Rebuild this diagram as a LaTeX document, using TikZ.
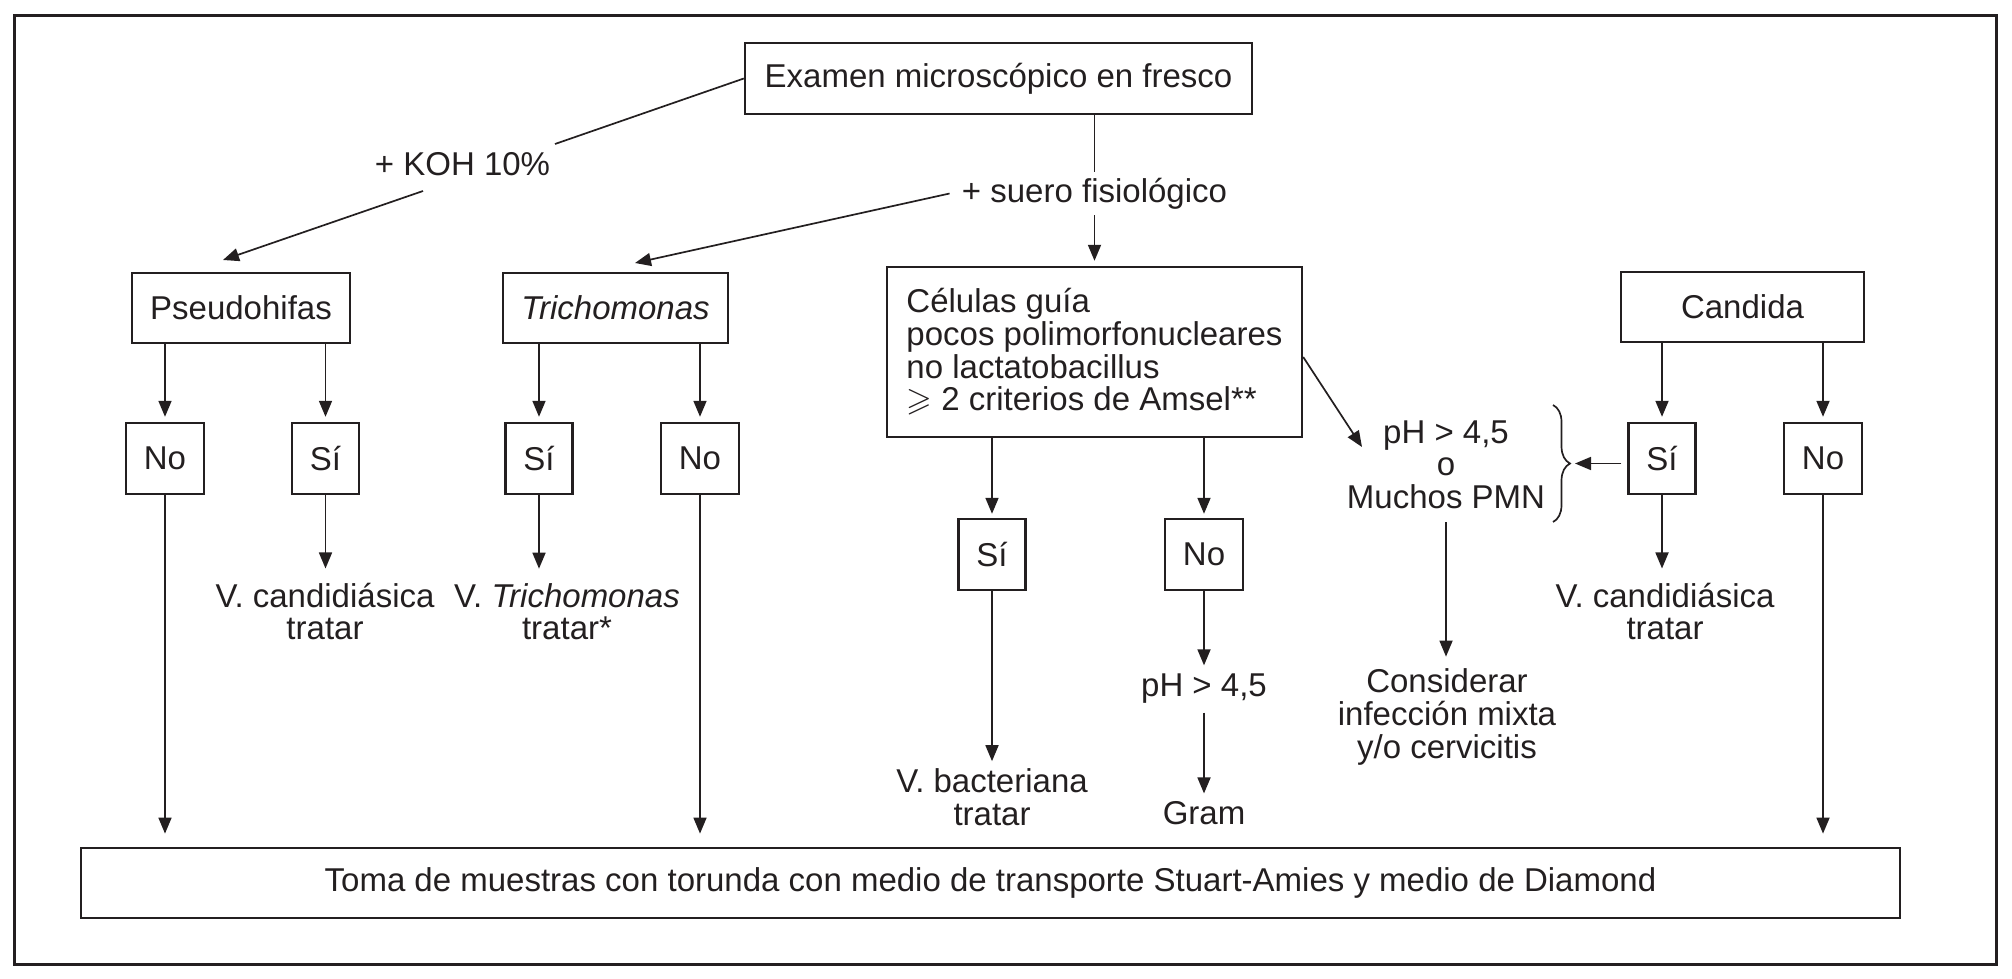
\documentclass[tikz,border=0pt]{standalone}
\usepackage{fontspec}
\setmainfont{Liberation Sans}
\usepackage{amssymb}
\usetikzlibrary{arrows.meta,decorations.pathreplacing}
\definecolor{ink}{RGB}{35,31,32}
\begin{document}
\begin{tikzpicture}[x=0.5pt,y=-0.5pt,
  every node/.style={font=\fontsize{16.5}{16.3}\selectfont, text=ink},
  box/.style={draw=ink, line width=1.2pt, inner sep=0pt, align=center},
  txt/.style={inner sep=0pt, align=center},
  arr/.style={draw=ink, line width=0.85pt, -{Triangle[length=8pt,width=6.5pt]}},
  ln/.style={draw=ink, line width=0.85pt},
]
\useasboundingbox (0,0) rectangle (2012,979);
\draw[ink, line width=1.5pt] (14,16) rectangle (1996,964);

% boxes
\node[box, minimum width=253.5pt, minimum height=35.5pt] (exam) at (998.5,78.5) {Examen microscópico en fresco};
\node[box, minimum width=109pt, minimum height=35pt] (pseudo) at (241,308) {Pseudohifas};
\node[box, minimum width=112.5pt, minimum height=35pt] (tricho) at (615.5,308) {\textit{Trichomonas}};
\node[box, minimum width=207.5pt, minimum height=85pt, align=left] (cel) at (1094.5,352) {Células guía\\pocos polimorfonucleares\\no lactatobacillus\\$\geqslant$ 2 criterios de Amsel**};
\node[box, minimum width=121.5pt, minimum height=35pt] (cand) at (1742.5,307) {Candida};

\node[box, minimum width=39pt, minimum height=35.5pt] (no1) at (165,458.5) {No};
\node[box, minimum width=33.5pt, minimum height=35.5pt] (si1) at (325.5,458.5) {Sí};
\node[box, minimum width=33.5pt, minimum height=35.5pt] (si2) at (539,458.5) {Sí};
\node[box, minimum width=39pt, minimum height=35.5pt] (no2) at (700,458.5) {No};
\node[box, minimum width=33.5pt, minimum height=35.5pt] (si3) at (992,554.5) {Sí};
\node[box, minimum width=39pt, minimum height=35.5pt] (no3) at (1204,554.5) {No};
\node[box, minimum width=33.5pt, minimum height=35.5pt] (si4) at (1662,458.5) {Sí};
\node[box, minimum width=39pt, minimum height=35.5pt] (no4) at (1823,458.5) {No};

\node[box, line width=1.4pt, minimum width=909.5pt, minimum height=35pt] (bot) at (990.5,883) {Toma de muestras con torunda con medio de transporte Stuart-Amies y medio de Diamond};

% texts
\node[txt, inner xsep=6pt, inner ysep=3pt] (suero) at (1094.5,193.5) {+ suero fisiológico};
\node[txt] (koh) at (462.5,164.5) {+ KOH 10\%};
\node[txt] (vc1) at (325,611.5) {V. candidiásica\\tratar};
\node[txt] (vt) at (567,611.5) {V. \textit{Trichomonas}\\tratar*};
\node[txt] (vb) at (992,797) {V. bacteriana\\tratar};
\node[txt] (ph2) at (1204,688.5) {pH > 4,5};
\node[txt] (gram) at (1204,813.5) {Gram};
\node[txt] (phm) at (1446,464.5) {pH > 4,5\\o\\Muchos PMN};
\node[txt] (cons) at (1447,717) {Considerar\\infección mixta\\y/o cervicitis};
\node[txt] (vc2) at (1665,611.5) {V. candidiásica\\tratar};

% coordinates
\coordinate (k1) at (555,144);
\coordinate (k2) at (423,191);
\coordinate (ptip) at (223,260);
\coordinate (ttip) at (635,263);
\coordinate (pmtip) at (1362,447);
\coordinate (bt) at (1553,405);
\coordinate (bb) at (1553,522);
\coordinate (btip) at (1570,463.5);

% top connectors
\draw[ln] (exam.west) -- (k1);
\draw[arr] (k2) -- (ptip);
\draw[ln] (exam.south -| suero) -- (suero.north);
\draw[arr, shorten >=2.5pt] (suero.south) -- (cel.north);
\draw[arr] (suero.west) -- (ttip);

% Pseudohifas
\draw[arr, shorten >=2.5pt] (pseudo.south -| no1) -- (no1.north);
\draw[arr, shorten >=2.5pt] (pseudo.south -| si1) -- (si1.north);
\draw[arr, shorten >=7pt] (si1.south) -- (si1.south |- vc1.north);
\draw[arr, shorten >=6.5pt] (no1.south) -- (no1.south |- bot.north);

% Trichomonas
\draw[arr, shorten >=2.5pt] (tricho.south -| si2) -- (si2.north);
\draw[arr, shorten >=2.5pt] (tricho.south -| no2) -- (no2.north);
\draw[arr, shorten >=7pt] (si2.south) -- (si2.south |- vt.north);
\draw[arr, shorten >=6.5pt] (no2.south) -- (no2.south |- bot.north);

% Celulas guia
\draw[arr, shorten >=2pt] (cel.south -| si3) -- (si3.north);
\draw[arr, shorten >=2pt] (cel.south -| no3) -- (no3.north);
\draw[arr, shorten >=3.5pt] (si3.south) -- (si3.south |- vb.north);
\draw[arr, shorten >=4pt] (no3.south) -- (no3.south |- ph2.north);
\draw[arr, shorten <=4.5pt, shorten >=4pt] (ph2.south) -- (ph2.south |- gram.north);
\draw[arr] ([yshift=-2.5pt]cel.east) -- (pmtip);
\draw[arr, shorten <=6.5pt, shorten >=6pt] (phm.south) -- (phm.south |- cons.north);

% brace
\draw[ln, decorate, decoration={brace, amplitude=8.5pt}] (bt) -- (bb);
\draw[arr, shorten <=3pt, shorten >=2.5pt] (btip -| si4.west) -- (btip);

% Candida
\draw[arr, shorten >=2.5pt] (cand.south -| si4) -- (si4.north);
\draw[arr, shorten >=2.5pt] (cand.south -| no4) -- (no4.north);
\draw[arr, shorten >=7pt] (si4.south) -- (si4.south |- vc2.north);
\draw[arr, shorten >=6.5pt] (no4.south) -- (no4.south |- bot.north);
\end{tikzpicture}
\end{document}
